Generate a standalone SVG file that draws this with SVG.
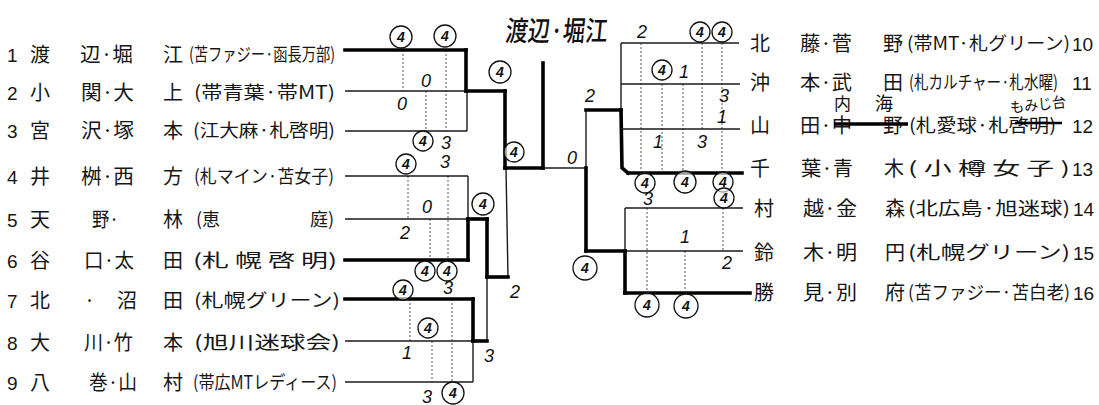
<svg xmlns="http://www.w3.org/2000/svg" width="1099" height="405" viewBox="0 0 1099 405">
<style>
.t{font-family:"Noto Sans CJK JP","Noto Sans CJK SC",sans-serif;font-size:20px;fill:#161616}
.tm{font-family:"Noto Sans CJK JP","Noto Sans CJK SC",sans-serif;font-size:18px;fill:#161616}
.n{font-family:"Liberation Sans",sans-serif;font-size:19px;fill:#161616}
.hw{font-family:"Noto Sans CJK JP","Noto Sans CJK SC",sans-serif;fill:#111}
.thin{stroke:#1a1a1a;stroke-width:1.4;fill:none}
.thick{stroke:#000;stroke-width:3.6;fill:none;stroke-linecap:square}
.dot{stroke:#555;stroke-width:1;stroke-dasharray:2 2;fill:none}
.s{font-family:"Liberation Sans",sans-serif;font-style:italic;font-size:18px;text-anchor:middle;fill:#111}
.c{fill:#fff;fill-opacity:0.6;stroke:#111;stroke-width:1.3}
.ci{font-family:"Liberation Sans",sans-serif;font-style:italic;font-weight:bold;font-size:14px;text-anchor:middle;fill:#111}
.strike{stroke:#000;stroke-width:3.5;fill:none}
</style>

<g id="connectors">
  <!-- left group 1 -->
  <line class="dot" x1="403" y1="50" x2="403" y2="91"/>
  <line class="dot" x1="426" y1="91" x2="426" y2="131"/>
  <line class="dot" x1="446" y1="50" x2="446" y2="131"/>
  <line class="thick" x1="345" y1="50" x2="466" y2="50"/>
  <line class="thin" x1="345" y1="91" x2="466" y2="91"/>
  <line class="thin" x1="345" y1="131" x2="467" y2="131"/>
  <line class="thick" x1="466" y1="50" x2="466" y2="91"/>
  <line class="thin" x1="467" y1="91" x2="467" y2="131"/>
  <line class="thick" x1="466" y1="91" x2="505" y2="91"/>
  <line class="thick" x1="505" y1="91" x2="505" y2="168"/>
  <line class="thin" x1="506" y1="168" x2="508" y2="277"/>
  <line class="thick" x1="505" y1="168" x2="543" y2="168"/>
  <line class="thick" x1="543" y1="63" x2="543" y2="168"/>
  <line class="thin" x1="543" y1="168" x2="586" y2="168"/>
  <!-- left group 2 -->
  <line class="dot" x1="408" y1="176" x2="408" y2="219"/>
  <line class="dot" x1="430" y1="219" x2="430" y2="260"/>
  <line class="dot" x1="448" y1="176" x2="448" y2="260"/>
  <line class="thin" x1="345" y1="176" x2="468" y2="176"/>
  <line class="thin" x1="345" y1="219" x2="468" y2="219"/>
  <line class="thick" x1="345" y1="260" x2="468" y2="260"/>
  <line class="thin" x1="468" y1="176" x2="468" y2="219"/>
  <line class="thick" x1="468" y1="219" x2="468" y2="260"/>
  <line class="thick" x1="468" y1="219" x2="487" y2="219"/>
  <line class="thick" x1="487" y1="219" x2="487" y2="277"/>
  <line class="thin" x1="487" y1="277" x2="487" y2="341"/>
  <line class="thick" x1="487" y1="277" x2="508" y2="277"/>
  <!-- left group 3 -->
  <line class="dot" x1="410" y1="299" x2="410" y2="341"/>
  <line class="dot" x1="432" y1="341" x2="432" y2="382"/>
  <line class="dot" x1="452" y1="299" x2="452" y2="382"/>
  <line class="thick" x1="345" y1="299" x2="473" y2="299"/>
  <line class="thin" x1="345" y1="341" x2="473" y2="341"/>
  <line class="thin" x1="345" y1="382" x2="473" y2="382"/>
  <line class="thick" x1="473" y1="299" x2="473" y2="341"/>
  <line class="thin" x1="473" y1="341" x2="473" y2="382"/>
  <line class="thick" x1="473" y1="341" x2="487" y2="341"/>
  <!-- right centre -->
  <line class="thin" x1="586" y1="110" x2="586" y2="168"/>
  <line class="thick" x1="586" y1="168" x2="586" y2="251"/>
  <line class="thick" x1="586" y1="110" x2="621" y2="110"/>
  <!-- right group top -->
  <line class="dot" x1="641" y1="43" x2="641" y2="173"/>
  <line class="dot" x1="662" y1="84" x2="662" y2="173"/>
  <line class="dot" x1="683" y1="84" x2="683" y2="173"/>
  <line class="dot" x1="702" y1="43" x2="702" y2="129"/>
  <line class="dot" x1="722" y1="43" x2="722" y2="173"/>
  <line class="thin" x1="621" y1="43" x2="621" y2="110"/>
  <polyline class="thick" points="621,110 622,168 628,173"/>
  <line class="thin" x1="621" y1="43" x2="739" y2="43"/>
  <line class="thin" x1="621" y1="84" x2="740" y2="84"/>
  <line class="thin" x1="621" y1="129" x2="740" y2="129"/>
  <line class="thick" x1="628" y1="173" x2="742" y2="173"/>
  <!-- right group bottom -->
  <line class="dot" x1="647" y1="208" x2="647" y2="293"/>
  <line class="dot" x1="685" y1="251" x2="685" y2="293"/>
  <line class="dot" x1="723" y1="208" x2="723" y2="251"/>
  <line class="thin" x1="625" y1="208" x2="743" y2="208"/>
  <line class="thick" x1="586" y1="251" x2="625" y2="251"/>
  <line class="thin" x1="625" y1="251" x2="743" y2="251"/>
  <line class="thin" x1="625" y1="208" x2="625" y2="251"/>
  <line class="thick" x1="625" y1="251" x2="625" y2="293"/>
  <line class="thick" x1="625" y1="293" x2="750" y2="293"/>
</g>

<g id="player-1">
  <text class="n" x="7" y="62">1</text><text class="t" x="30" y="62">渡</text>
  <text class="t" x="80" y="62" textLength="53" lengthAdjust="spacingAndGlyphs">辺·堀</text>
  <text class="t" x="163" y="62">江</text>
  <text class="tm" x="189" y="61" textLength="146" lengthAdjust="spacingAndGlyphs">(苫ファジー·函長万部)</text>
</g>
<g id="player-2">
  <text class="n" x="7" y="100">2</text><text class="t" x="30" y="100">小</text>
  <text class="t" x="81" y="100" textLength="53" lengthAdjust="spacingAndGlyphs">関·大</text>
  <text class="t" x="163" y="100">上</text>
  <text class="tm" x="194" y="99" textLength="141" lengthAdjust="spacingAndGlyphs">(帯青葉·帯MT)</text>
</g>
<g id="player-3">
  <text class="n" x="7" y="138">3</text><text class="t" x="30" y="138">宮</text>
  <text class="t" x="81" y="138" textLength="53" lengthAdjust="spacingAndGlyphs">沢·塚</text>
  <text class="t" x="163" y="138">本</text>
  <text class="tm" x="193" y="137" textLength="142" lengthAdjust="spacingAndGlyphs">(江大麻·札啓明)</text>
</g>
<g id="player-4">
  <text class="n" x="7" y="184">4</text><text class="t" x="30" y="184">井</text>
  <text class="t" x="81" y="184" textLength="53" lengthAdjust="spacingAndGlyphs">桝·西</text>
  <text class="t" x="163" y="184">方</text>
  <text class="tm" x="194" y="183" textLength="140" lengthAdjust="spacingAndGlyphs">(札マイン·苫女子)</text>
</g>
<g id="player-5">
  <text class="n" x="7" y="227">5</text><text class="t" x="30" y="227">天</text>
  <text class="t" x="92" y="227" textLength="27" lengthAdjust="spacingAndGlyphs">野·</text>
  <text class="t" x="163" y="227">林</text>
  <text class="tm" x="196" y="226">(恵</text>
  <text class="tm" x="310" y="226">庭)</text>
</g>
<g id="player-6">
  <text class="n" x="7" y="268">6</text><text class="t" x="30" y="268">谷</text>
  <text class="t" x="84" y="268" textLength="50" lengthAdjust="spacingAndGlyphs">口·太</text>
  <text class="t" x="163" y="268">田</text>
  <text class="tm" x="193" y="267" textLength="144" lengthAdjust="spacingAndGlyphs">(札 幌 啓 明)</text>
</g>
<g id="player-7">
  <text class="n" x="7" y="308">7</text><text class="t" x="30" y="308">北</text>
  <text class="t" x="84" y="308">·</text>
  <text class="t" x="117" y="308">沼</text>
  <text class="t" x="163" y="308">田</text>
  <text class="tm" x="194" y="307" textLength="146" lengthAdjust="spacingAndGlyphs">(札幌グリーン)</text>
</g>
<g id="player-8">
  <text class="n" x="7" y="350">8</text><text class="t" x="30" y="350">大</text>
  <text class="t" x="84" y="350" textLength="49" lengthAdjust="spacingAndGlyphs">川·竹</text>
  <text class="t" x="163" y="350">本</text>
  <text class="tm" x="194" y="349" textLength="146" lengthAdjust="spacingAndGlyphs">(旭川迷球会)</text>
</g>
<g id="player-9">
  <text class="n" x="7" y="390">9</text><text class="t" x="30" y="390">八</text>
  <text class="t" x="89" y="390" textLength="48" lengthAdjust="spacingAndGlyphs">巻·山</text>
  <text class="t" x="163" y="390">村</text>
  <text class="tm" x="193" y="389" textLength="144" lengthAdjust="spacingAndGlyphs">(帯広MTレディース)</text>
</g>

<g id="player-10">
  <text class="t" x="750" y="51">北</text>
  <text class="t" x="800" y="51" textLength="52" lengthAdjust="spacingAndGlyphs">藤·菅</text>
  <text class="t" x="883" y="51">野</text>
  <text class="tm" x="907" y="50" textLength="163" lengthAdjust="spacingAndGlyphs">(帯MT·札グリーン)</text>
  <text class="n" x="1072" y="51">10</text>
</g>
<g id="player-11">
  <text class="t" x="750" y="90">沖</text>
  <text class="t" x="800" y="90" textLength="52" lengthAdjust="spacingAndGlyphs">本·武</text>
  <text class="t" x="883" y="90">田</text>
  <text class="tm" x="909" y="89" textLength="149" lengthAdjust="spacingAndGlyphs">(札カルチャー·札水曜)</text>
  <text class="n" x="1072" y="90">11</text>
</g>
<g id="player-12">
  <text class="t" x="750" y="133">山</text>
  <text class="t" x="800" y="133" textLength="52" lengthAdjust="spacingAndGlyphs">田·中</text>
  <text class="t" x="883" y="133">野</text>
  <text class="tm" x="909" y="132" textLength="147" lengthAdjust="spacingAndGlyphs">(札愛球·札啓明)</text>
  <text class="n" x="1072" y="133">12</text>
  <line class="strike" x1="834" y1="124" x2="908" y2="124"/>
  <line class="strike" x1="1015" y1="123" x2="1062" y2="123" style="stroke-width:2.5"/>
  <text class="hw" x="834" y="110" font-size="17">内</text>
  <text class="hw" x="875" y="110" font-size="18">海</text>
  <text class="hw" x="1010" y="110" font-size="15" textLength="56" lengthAdjust="spacingAndGlyphs" transform="rotate(-6 1038 104)">もみじ台</text>
</g>
<g id="player-13">
  <text class="t" x="750" y="176">千</text>
  <text class="t" x="801" y="176" textLength="52" lengthAdjust="spacingAndGlyphs">葉·青</text>
  <text class="t" x="884" y="176">木</text>
  <text class="tm" x="908" y="175" textLength="162" lengthAdjust="spacingAndGlyphs">( 小 樽 女 子 )</text>
  <text class="n" x="1072" y="176">13</text>
</g>
<g id="player-14">
  <text class="t" x="754" y="216">村</text>
  <text class="t" x="803" y="216" textLength="54" lengthAdjust="spacingAndGlyphs">越·金</text>
  <text class="t" x="885" y="216">森</text>
  <text class="tm" x="908" y="215" textLength="162" lengthAdjust="spacingAndGlyphs">(北広島·旭迷球)</text>
  <text class="n" x="1073" y="216">14</text>
</g>
<g id="player-15">
  <text class="t" x="754" y="260">鈴</text>
  <text class="t" x="803" y="260" textLength="54" lengthAdjust="spacingAndGlyphs">木·明</text>
  <text class="t" x="885" y="260">円</text>
  <text class="tm" x="908" y="259" textLength="162" lengthAdjust="spacingAndGlyphs">(札幌グリーン)</text>
  <text class="n" x="1073" y="260">15</text>
</g>
<g id="player-16">
  <text class="t" x="754" y="300">勝</text>
  <text class="t" x="803" y="300" textLength="54" lengthAdjust="spacingAndGlyphs">見·別</text>
  <text class="t" x="885" y="300">府</text>
  <text class="tm" x="908" y="299" textLength="162" lengthAdjust="spacingAndGlyphs">(苫ファジー·苫白老)</text>
  <text class="n" x="1073" y="300">16</text>
</g>

<g id="champion">
  <text class="hw" x="505" y="41" font-size="28" font-weight="500" textLength="102" lengthAdjust="spacingAndGlyphs" transform="skewX(-6) translate(4 0)">渡辺·堀江</text>
</g>

<g id="scores">
  <!-- plain scores -->
  <text class="s" x="402" y="110">0</text>
  <text class="s" x="426" y="87">0</text>
  <text class="s" x="446" y="149">3</text>
  <text class="s" x="405" y="239">2</text>
  <text class="s" x="427" y="213">0</text>
  <text class="s" x="445" y="168">3</text>
  <text class="s" x="407" y="359">1</text>
  <text class="s" x="427" y="403">3</text>
  <text class="s" x="448" y="294">3</text>
  <text class="s" x="489" y="362">3</text>
  <text class="s" x="515" y="298">2</text>
  <text class="s" x="572" y="164">0</text>
  <text class="s" x="590" y="102">2</text>
  <text class="s" x="642" y="38">2</text>
  <text class="s" x="684" y="78">1</text>
  <text class="s" x="724" y="102">3</text>
  <text class="s" x="722" y="123">1</text>
  <text class="s" x="658" y="148">1</text>
  <text class="s" x="702" y="148">3</text>
  <text class="s" x="648" y="205">3</text>
  <text class="s" x="685" y="243">1</text>
  <text class="s" x="727" y="269">2</text>
  <!-- circled 4s -->
  <circle class="c" cx="401" cy="37" r="11"/><text class="ci" x="401" y="42">4</text>
  <circle class="c" cx="445" cy="36" r="11"/><text class="ci" x="445" y="41">4</text>
  <circle class="c" cx="423" cy="141" r="10"/><text class="ci" x="423" y="146">4</text>
  <circle class="c" cx="406" cy="164" r="10"/><text class="ci" x="406" y="169">4</text>
  <circle class="c" cx="425" cy="271" r="10"/><text class="ci" x="425" y="276">4</text>
  <circle class="c" cx="447" cy="271" r="10"/><text class="ci" x="447" y="276">4</text>
  <circle class="c" cx="403" cy="290" r="10"/><text class="ci" x="403" y="295">4</text>
  <circle class="c" cx="428" cy="328" r="10"/><text class="ci" x="428" y="333">4</text>
  <circle class="c" cx="453" cy="393" r="11"/><text class="ci" x="453" y="398">4</text>
  <circle class="c" cx="483" cy="204" r="11"/><text class="ci" x="483" y="209">4</text>
  <circle class="c" cx="500" cy="72" r="11"/><text class="ci" x="500" y="77">4</text>
  <circle class="c" cx="514" cy="152" r="10"/><text class="ci" x="514" y="157">4</text>
  <circle class="c" cx="585" cy="268" r="12"/><text class="ci" x="585" y="273">4</text>
  <circle class="c" cx="700" cy="32" r="10"/><text class="ci" x="700" y="37">4</text>
  <circle class="c" cx="722" cy="32" r="10"/><text class="ci" x="722" y="37">4</text>
  <circle class="c" cx="662" cy="70" r="10"/><text class="ci" x="662" y="75">4</text>
  <circle class="c" cx="645" cy="183" r="10"/><text class="ci" x="645" y="188">4</text>
  <circle class="c" cx="685" cy="182" r="11"/><text class="ci" x="685" y="187">4</text>
  <circle class="c" cx="723" cy="182" r="10"/><text class="ci" x="723" y="187">4</text>
  <circle class="c" cx="724" cy="198" r="10"/><text class="ci" x="724" y="203">4</text>
  <circle class="c" cx="647" cy="305" r="12"/><text class="ci" x="647" y="310">4</text>
  <circle class="c" cx="686" cy="306" r="12"/><text class="ci" x="686" y="311">4</text>
</g>
</svg>
